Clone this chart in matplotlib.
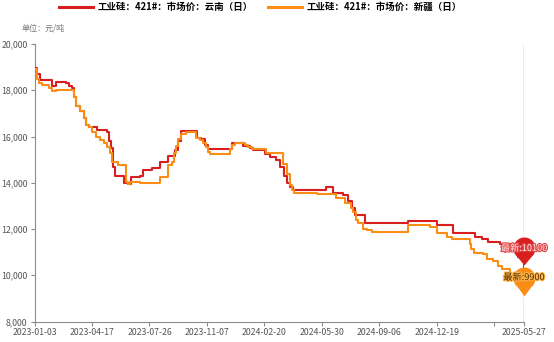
import numpy as np
import matplotlib

matplotlib.use("Agg")

import matplotlib.pyplot as plt  # noqa: E402
import matplotlib.patheffects as pe  # noqa: E402
from matplotlib.path import Path  # noqa: E402
from matplotlib.lines import Line2D  # noqa: E402
from matplotlib import transforms  # noqa: E402

plt.rcParams["font.family"] = ["Noto Sans CJK SC", "DejaVu Sans"]

# --- data (trading-day index, price in yuan/ton, step changes) ---------------

SERIES_YN = "工业硅：421#：市场价：云南（日）"
SERIES_XJ = "工业硅：421#：市场价：新疆（日）"

yn_day = [0, 3, 7, 21, 26, 38, 42, 46, 48, 51, 55, 60, 63, 66, 76, 88, 91, 93,
          95, 98, 109, 114, 117, 128, 132, 143, 153, 163, 171, 175, 178, 198,
          203, 208, 211, 240, 254, 262, 266, 281, 287, 294, 299, 304, 307, 311,
          315, 355, 363, 376, 382, 386, 390, 402, 455, 490, 510, 536, 545, 552,
          567, 589, 596]
yn_price = [18950, 18700, 18450, 18200, 18350, 18300, 18200, 18100, 17700,
            17300, 17100, 16800, 16500, 16400, 16300, 16200, 15800, 15500,
            14700, 14300, 14000, 13950, 14250, 14300, 14550, 14650, 14900,
            15150, 15400, 15800, 16250, 15950, 15900, 15650, 15450, 15700,
            15600, 15500, 15400, 15250, 15100, 15000, 14700, 14300, 14000,
            13800, 13700, 13830, 13560, 13450, 13200, 12900, 12600, 12270,
            12350, 12170, 11810, 11640, 11550, 11420, 11350, 10800, 10100]

xj_day = [0, 3, 5, 9, 18, 21, 26, 48, 51, 55, 60, 63, 66, 70, 75, 80, 85, 88,
          92, 94, 102, 111, 114, 116, 128, 153, 162, 167, 170, 172, 175, 178,
          185, 197, 201, 205, 209, 211, 214, 238, 240, 244, 256, 260, 265, 282,
          303, 307, 311, 314, 316, 344, 367, 378, 385, 388, 391, 394, 400, 405,
          411, 455, 482, 490, 502, 508, 530, 532, 535, 546, 551, 558, 564, 569,
          579, 596]
xj_price = [18900, 18500, 18300, 18220, 18100, 17960, 18030, 17700, 17300,
            17100, 16800, 16500, 16400, 16200, 16000, 15850, 15700, 15550,
            15300, 14900, 14760, 14030, 13950, 14050, 14000, 14250, 14760,
            14900, 15300, 15600, 15900, 16100, 16200, 15930, 15840, 15700,
            15540, 15320, 15230, 15450, 15620, 15700, 15650, 15550, 15480,
            15280, 14800, 14400, 13900, 13680, 13570, 13500, 13330, 13110,
            12900, 12720, 12400, 12250, 12000, 11940, 11870, 12160, 12070,
            11810, 11650, 11550, 11350, 11150, 10950, 10900, 10700, 10600,
            10400, 10250, 10050, 9900]

tick_day = [0, 70, 140, 210, 280, 350, 420, 490, 560, 596]
tick_label = ["2023-01-03", "2023-04-17", "2023-07-26", "2023-11-07",
              "2024-02-20", "2024-05-30", "2024-09-06", "2024-12-19", "",
              "2025-05-27"]

latest_yn = 10100
latest_xj = 9900

RED = "#d81e1e"
ORANGE = "#fb8c16"
AXIS = "#8c8c8c"


def pin_path(r=11.0, c=17.0):
    """Balloon marker, tip at the origin, round head above."""
    a = np.arcsin(r / c)
    ang = np.linspace(-np.pi / 2 + a, 3 * np.pi / 2 - a, 60)
    verts = [(0.0, 0.0)] + [(r * np.cos(t), c + r * np.sin(t)) for t in ang]
    verts.append((0.0, 0.0))
    codes = [Path.MOVETO] + [Path.LINETO] * (len(verts) - 2) + [Path.CLOSEPOLY]
    return Path(verts, codes)


def draw_pin(ax, fig, x, y, color, text, text_color, halo, dy_px, c_px):
    r_px = 11.0
    pin = pin_path(r_px, c_px)
    top = c_px + r_px
    ms = 2 * top * 72 / fig.dpi
    off = transforms.ScaledTranslation(0, dy_px / fig.dpi, fig.dpi_scale_trans)
    ax.plot([x], [y], marker=pin, markersize=ms, color=color,
            markeredgewidth=0, transform=ax.transData + off, clip_on=False,
            zorder=6)
    off_t = transforms.ScaledTranslation(0, (dy_px + c_px) / fig.dpi,
                                         fig.dpi_scale_trans)
    ax.text(x, y, text, color=text_color, fontsize=6.6, ha="center",
            va="center", transform=ax.transData + off_t, clip_on=False,
            zorder=7,
            path_effects=[pe.withStroke(linewidth=1.6, foreground=halo)])


fig = plt.figure(figsize=(5.54, 3.42), dpi=100)
ax = fig.add_axes([34.5 / 554, 1 - 321.5 / 342, (524 - 34.5) / 554,
                   (321.5 - 44) / 342])

ax.plot(yn_day, yn_price, drawstyle="steps-post", color=RED, lw=1.5,
        label=SERIES_YN, zorder=3)
ax.plot(xj_day, xj_price, drawstyle="steps-post", color=ORANGE, lw=1.5,
        label=SERIES_XJ, zorder=4)
ax.axvline(tick_day[-1], color="#aaaaaa", lw=1, zorder=2)

draw_pin(ax, fig, yn_day[-1], latest_yn, RED, f"最新:{latest_yn}", "#ffe3e3",
         "#e04848", dy_px=7.5, c_px=17.0)
draw_pin(ax, fig, xj_day[-1], latest_xj, ORANGE, f"最新:{latest_xj}",
         "#4a2c00", "#ffb347", dy_px=-18.0, c_px=18.0)

ax.set_xlim(0, tick_day[-1])
ax.set_ylim(8000, 20000)
ax.set_xticks(tick_day)
ax.set_xticklabels(tick_label)
yt = list(range(8000, 20001, 2000))
ax.set_yticks(yt)
ax.set_yticklabels([f"{v:,}" for v in yt])
ax.tick_params(axis="both", colors=AXIS, labelcolor="#555555", labelsize=6.3,
               length=3, width=0.8, pad=2)

for side in ("top", "right"):
    ax.spines[side].set_visible(False)
for side in ("left", "bottom"):
    ax.spines[side].set_color(AXIS)
    ax.spines[side].set_linewidth(0.8)

handles = [Line2D([], [], color=RED, lw=2.2), Line2D([], [], color=ORANGE, lw=2.2)]
fig.legend(handles, [SERIES_YN, SERIES_XJ], loc="center", ncol=2,
           bbox_to_anchor=(0.47, 1 - 7 / 342), frameon=False,
           prop={"size": 6.8, "weight": "bold"}, handlelength=3.6,
           handletextpad=0.5, columnspacing=1.6, borderpad=0)

fig.text(22 / 554, 1 - 28 / 342, "单位：元/吨", fontsize=5.8, color="#777777",
         va="center", ha="left")

fig.savefig("out.png", dpi=100)
